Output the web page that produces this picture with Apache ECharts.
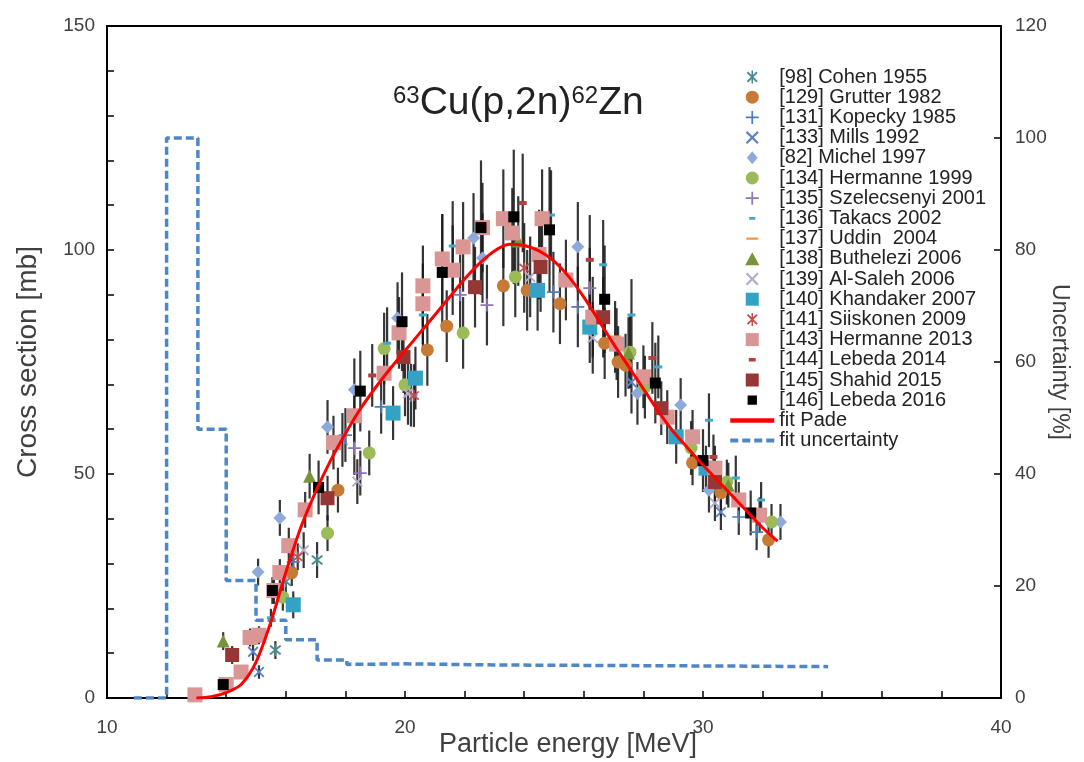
<!DOCTYPE html>
<html><head><meta charset="utf-8">
<script src="https://cdn.jsdelivr.net/npm/echarts@6/dist/echarts.min.js"></script>
<style>html,body{margin:0;padding:0;background:#fff}#c{width:1084px;height:762px}</style>
</head><body><div id="c"></div>
<script>
// ---- data: [energy MeV, cross section mb, uncertainty mb]
const cohen1955 = [[15.65,10.7,2],[16.0,26.0,3],[17.05,30.8,4]];
const grutter1982 = [[16.2,28,3],[17.75,46.4,5],[20.75,77.7,8],[21.4,83,8],[23.3,92,9],[24.1,91,9],[25.2,88,9],[26.7,79.2,8],[27.15,75,8],[27.4,74.3,7],[29.65,52.5,5],[30.6,45.8,5],[32.2,35.3,4]];
const kopecky1985 = [[16.25,30.4,3],[18.0,58.7,6],[19.2,65,6],[24.98,90.6,9],[25.8,87.3,9],[31.2,40.4,4],[31.8,37,4]];
const mills1992 = [[14.9,10.3,2],[15.1,5.8,1.5],[17.9,57.6,6],[27.6,70.5,7],[30.6,41.5,4]];
const michel1997 = [[15.07,28.1,3],[15.8,40.2,4],[17.4,60.5,6],[18.3,68.8,7],[19.75,84.8,8],[22.3,102.7,10],[22.6,98.2,10],[25.8,100.7,10],[27.8,68,7],[29.25,65.4,6],[30.2,46.4,5],[32.6,39.3,4]];
const hermanne1999 = [[15.9,22.5,3],[17.4,36.8,4],[18.8,54.7,5],[19.3,78,8],[20.0,69.9,7],[21.95,81.5,8],[23.7,94,9],[27.55,77.2,8],[28.05,69.4,7],[29.6,55.8,6],[30.8,48.2,5],[32.3,39.3,4]];
const szelecsenyi2001 = [[18.3,55.8,6],[18.5,50.2,5],[20.2,67.6,7],[21.85,90,9],[22.75,87.7,9],[26.2,91.5,9]];
const takacs2002 = [[15.5,17.9,2],[19.4,79.2,8],[20.6,85.5,8],[21.6,100.9,10],[24.9,107.8,10],[26.65,96.7,10],[27.6,85.5,8],[28.5,73.9,7],[30.2,62,6],[31.1,49.1,5],[31.95,44.2,4]];
const uddin2004 = [[27.05,80.6,8]];
const buthelezi2006 = [[13.9,12.7,2],[16.8,49.5,5],[23.8,102,10],[27.5,77,8],[30.85,47.5,5]];
const alSaleh2006 = [[16.6,33,4],[18.4,48.3,5],[20.1,68,7],[24.2,94,9],[26.3,80.4,8],[30.4,43.5,4]];
const khandaker2007 = [[16.25,20.8,3],[19.6,63.6,6],[20.35,71.4,7],[24.45,91,9],[26.2,82.8,8],[29.1,58.3,6],[30.1,51.3,5]];
const siiskonen2009 = [[16.4,31.5,3],[20.3,67.5,7],[24.0,96,10]];
const hermanne2013 = [[12.95,0.7,0.5],[14.0,3,1],[14.5,5.8,1.5],[14.8,13.5,2],[15.1,14,2],[15.6,24,3],[15.8,28,3],[16.1,34,4],[16.65,42,4],[17.6,57,6],[18.3,63,6],[19.3,72.5,7],[19.8,81.5,8],[20.6,88,9],[20.6,92,9],[21.25,98,10],[21.6,95.5,10],[21.95,100.7,10],[22.6,105,10],[23.3,107,11],[23.6,103.8,10],[24.6,107,11],[24.5,99,10],[25.4,93.3,9],[26.3,85,9],[27.1,79,8],[28.0,71.7,7],[28.8,62.7,6],[29.65,58.3,6],[30.4,51.3,5],[31.2,44.2,4],[31.9,40.8,4]];
const lebeda2014 = [[18.9,72,7],[23.95,110.5,11],[26.2,97.8,10],[28.3,75.9,8],[30.35,53.8,5]];
const shahid2015 = [[14.2,9.6,2],[17.4,44.6,5],[19.95,76.1,8],[22.35,91.7,9],[24.55,96.2,10],[26.65,85,9],[28.6,64.7,6],[30.4,48.2,5]];
const lebeda2016 = [[13.9,3,1],[15.55,24,3],[17.1,47,6],[18.5,68.5,9],[19.9,84,11],[21.25,95,13],[22.55,105,15],[23.65,107.4,15],[24.85,104.5,14],[26.7,89,12],[28.4,70.3,9],[30.0,53,7],[31.6,41.3,5]];

// fit Pade (E, mb)
const fitPade = [[13.0,0],[13.5,0.3],[14.0,1.2],[14.5,3],[15.0,8],[15.5,17],[16.0,28],[16.5,38],[17.0,46],[17.5,53],[18.0,59],[18.5,64.5],[19.0,69.2],[19.5,73.5],[20.0,77.5],[20.5,81.5],[21.0,85.5],[21.5,89.5],[22.0,93.5],[22.5,97],[23.0,99.8],[23.5,101.3],[24.0,101],[24.5,99.8],[25.0,97.5],[25.5,94],[26.0,89.5],[26.5,84.3],[27.0,79],[27.5,74],[28.0,69],[28.5,64],[29.0,59.5],[29.5,55.7],[30.0,52],[30.5,48.5],[31.0,45],[31.5,41.5],[32.0,38],[32.5,35]];
// fit uncertainty (E, %)
const fitUnc = [[10.9,0],[12.0,0],[12.0,100],[13.05,100],[13.05,48],[14.0,48],[14.0,21],[15.0,21],[15.0,13.9],[16.0,13.9],[16.0,10.4],[17.05,10.4],[17.05,6.8],[18.05,6.8],[18.05,6.0],[20,6.1],[23,5.9],[27,5.8],[31,5.7],[34.2,5.6]];

const xRange = [10, 40], leftRange = [0, 150], rightRange = [0, 120];

// ---- symbols
const P_PLUS = 'path://M-0.8,-6H0.8V-0.8H6V0.8H0.8V6H-0.8V0.8H-6V-0.8H-0.8Z';
const P_X = 'path://M-5,-3.8L-3.8,-5L0,-1.2L3.8,-5L5,-3.8L1.2,0L5,3.8L3.8,5L0,1.2L-3.8,5L-5,3.8L-1.2,0Z';
const P_STAR = 'path://M-5,-3.8L-3.8,-5L0,-1.2L3.8,-5L5,-3.8L1.2,0L5,3.8L3.8,5L0,1.2L-3.8,5L-5,3.8L-1.2,0Z M-0.7,-6H0.7V6H-0.7Z';
const P_SQ = 'path://M-5,-5H5V5H-5Z';
const P_DIA = 'path://M0,-6L5,0L0,6L-5,0Z';
const P_TRI = 'path://M0,-6L6,5H-6Z';
const PAD = 'M-6,-6h0.01v0.01h-0.01Z M5.99,5.99h0.01v0.01h-0.01Z ';
const L_SQS = 'path://' + PAD + 'M-4.3,-4.3H4.3V4.3H-4.3Z';
const L_DASH_S = 'path://' + PAD + 'M-2.8,-1.3H2.8V1.3H-2.8Z';
const L_DASH_L = 'path://' + PAD + 'M-5.5,-1.1H5.5V1.1H-5.5Z';
const L_DASH_M = 'path://' + PAD + 'M-3.2,-1.6H3.2V1.6H-3.2Z';

const defs = [
  {name:'[98] Cohen 1955', data:cohen1955, symbol:P_STAR, size:12, color:'#4a8a8e', icon:P_STAR},
  {name:'[129] Grutter 1982', data:grutter1982, symbol:'circle', size:13, color:'#c77a36', icon:'circle'},
  {name:'[131] Kopecky 1985', data:kopecky1985, symbol:P_PLUS, size:13, color:'#4f7cba', icon:P_PLUS},
  {name:'[133] Mills 1992', data:mills1992, symbol:P_X, size:11, color:'#5b82c9', icon:P_X},
  {name:'[82] Michel 1997', data:michel1997, symbol:P_DIA, size:13, color:'#8eaadb', icon:P_DIA},
  {name:'[134] Hermanne 1999', data:hermanne1999, symbol:'circle', size:13, color:'#9bbb59', icon:'circle'},
  {name:'[135] Szelecsenyi 2001', data:szelecsenyi2001, symbol:P_PLUS, size:13, color:'#8e74b8', icon:P_PLUS},
  {name:'[136] Takacs 2002', data:takacs2002, symbol:'rect', size:[8,3], color:'#44a8c8', icon:L_DASH_S},
  {name:'[137] Uddin  2004', data:uddin2004, symbol:'rect', size:[12,3], color:'#f79646', icon:L_DASH_L},
  {name:'[138] Buthelezi 2006', data:buthelezi2006, symbol:P_TRI, size:13, color:'#77933c', icon:P_TRI},
  {name:'[139] Al-Saleh 2006', data:alSaleh2006, symbol:P_X, size:11, color:'#b3aac8', icon:P_X},
  {name:'[140] Khandaker 2007', data:khandaker2007, symbol:'rect', size:15, color:'#34a2c4', icon:P_SQ},
  {name:'[141] Siiskonen 2009', data:siiskonen2009, symbol:P_STAR, size:11, color:'#c0504d', icon:P_STAR},
  {name:'[143] Hermanne 2013', data:hermanne2013, symbol:'rect', size:15, color:'#da9694', icon:P_SQ},
  {name:'[144] Lebeda 2014', data:lebeda2014, symbol:'rect', size:[8,4], color:'#b4403e', icon:L_DASH_M},
  {name:'[145] Shahid 2015', data:shahid2015, symbol:'rect', size:14, color:'#953735', icon:P_SQ},
  {name:'[146] Lebeda 2016', data:lebeda2016, symbol:'rect', size:11, color:'#000000', icon:L_SQS}
];

const errRows = [];
defs.forEach(d => d.data.forEach(p => errRows.push([p[0], Math.max(0, p[1]-p[2]), p[1]+p[2]])));

const series = [{
  type:'custom', name:'err', silent:true, z:1, clip:true,
  data: errRows, encode:{x:0, y:[1,2]},
  renderItem:(params, api) => {
    const a = api.coord([api.value(0), api.value(1)]);
    const b = api.coord([api.value(0), api.value(2)]);
    return {type:'line', shape:{x1:a[0], y1:a[1], x2:b[0], y2:b[1]}, style:{stroke:'#1a1a1a', lineWidth:2.2, opacity:0.88}};
  }
}];
defs.forEach(d => series.push({
  type:'scatter', name:d.name, data:d.data.map(p => [p[0], p[1]]),
  symbol:d.symbol, symbolSize:d.size, itemStyle:{color:d.color, opacity:1}, z:3
}));
series.push({type:'line', name:'fit Pade', data:fitPade, smooth:0.3, symbol:'none', z:4,
  lineStyle:{color:'#ff0000', width:3}, itemStyle:{color:'#ff0000'}});
series.push({type:'line', name:'fit uncertainty', data:fitUnc, yAxisIndex:1, symbol:'none', z:2,
  lineStyle:{color:'#4f86c6', width:3.5, type:[8,4]}, itemStyle:{color:'#4f86c6'}});

const legendData = defs.map(d => ({name:d.name, icon:d.icon})).concat([
  {name:'fit Pade', itemStyle:{opacity:0}, lineStyle:{width:4.5, color:'#ff0000'}},
  {name:'fit uncertainty', itemStyle:{opacity:0}, lineStyle:{width:4, color:'#4f86c6', type:[8,4]}}
]);

const FF = 'Liberation Sans, Arial, sans-serif';
const axisTxt = {color:'#404040', fontSize:19, fontFamily:FF};

const chart = echarts.init(document.getElementById('c'), null, {renderer:'canvas'});
chart.setOption({
  animation:false,
  backgroundColor:'#fff',
  title:{
    text:'{s|63}Cu(p,2n){s|62}Zn', left:388, top:79,
    textStyle:{fontSize:39, fontWeight:'normal', color:'#222', fontFamily:FF,
      rich:{s:{fontSize:24, verticalAlign:'top', color:'#222', fontFamily:FF}}}
  },
  grid:{left:107, right:83, top:26, bottom:64, show:true, borderColor:'#000', borderWidth:2,
    backgroundColor:'transparent', containLabel:false, outerBoundsMode:'none'},
  legend:{
    orient:'vertical', left:723, top:62, itemWidth:44, itemHeight:13, itemGap:0.2,
    symbolKeepAspect:true, selectedMode:false, data:legendData,
    textStyle:{fontSize:20, color:'#222', lineHeight:20, fontFamily:FF}
  },
  xAxis:{
    type:'value', min:xRange[0], max:xRange[1], interval:2,
    axisLine:{show:true, lineStyle:{color:'#000', width:2}},
    axisTick:{show:true, inside:true, length:7, lineStyle:{color:'#000', width:1.5}},
    axisLabel:{...axisTxt, margin:20, formatter:v => (v % 10 === 0 ? String(v) : '')},
    splitLine:{show:false},
    name:'Particle energy [MeV]', nameLocation:'middle', nameGap:33, nameMoveOverlap:false,
    nameTextStyle:{color:'#404040', fontSize:27, fontFamily:FF, padding:[0,0,0,28]}
  },
  yAxis:[{
    type:'value', min:leftRange[0], max:leftRange[1], interval:10,
    axisLine:{show:true, lineStyle:{color:'#000', width:2}},
    axisTick:{show:true, inside:true, length:7, lineStyle:{color:'#000', width:1.5}},
    axisLabel:{...axisTxt, margin:12, formatter:v => (v % 50 === 0 ? String(v) : '')},
    splitLine:{show:false},
    name:'Cross section [mb]', nameLocation:'middle', nameGap:65, nameMoveOverlap:false,
    nameTextStyle:{color:'#404040', fontSize:28, fontFamily:FF}
  },{
    type:'value', min:rightRange[0], max:rightRange[1], interval:20, position:'right',
    axisLine:{show:true, lineStyle:{color:'#000', width:2}},
    axisTick:{show:true, inside:true, length:7, lineStyle:{color:'#000', width:1.5}},
    axisLabel:{...axisTxt, margin:14},
    splitLine:{show:false},
    name:'Uncertainty [%]', nameLocation:'middle', nameGap:47, nameRotate:-90, nameMoveOverlap:false,
    nameTextStyle:{color:'#404040', fontSize:23, fontFamily:FF}
  }],
  series
});
</script></body></html>
